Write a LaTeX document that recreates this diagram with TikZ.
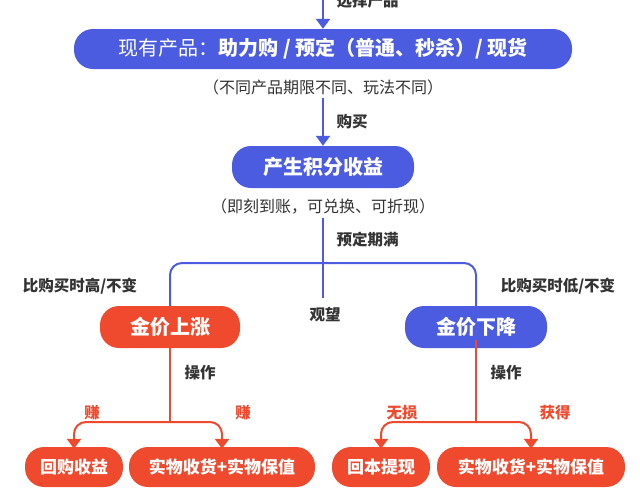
\documentclass[tikz,border=0pt]{standalone}
\usepackage{fontspec}
\setmainfont{Noto Sans CJK SC}
\usetikzlibrary{arrows.meta}
\definecolor{bl}{HTML}{4B5CE0}
\definecolor{rd}{HTML}{F04A2E}
\definecolor{tx}{HTML}{333333}
\tikzset{
  pill/.style={rounded corners=19pt,text=white,font=\bfseries\fontsize{20}{23}\selectfont,inner sep=0pt,anchor=center},
  bpill/.style={pill,fill=bl},
  rpill/.style={pill,fill=rd},
  note/.style={text=tx,font=\fontsize{16}{19}\selectfont},
  lab/.style={text=tx,font=\bfseries\fontsize{15.5}{18}\selectfont},
  rlab/.style={text=rd,font=\bfseries\fontsize{15.5}{18}\selectfont},
  bline/.style={draw=bl,line width=2pt,rounded corners=12pt},
  rline/.style={draw=rd,line width=2pt,rounded corners=12pt},
  btip/.style={-{Triangle[length=10pt,width=14pt]}},
}
\begin{document}
\begin{tikzpicture}[x=1pt,y=-1pt]
\useasboundingbox[fill=white] (0,0) rectangle (640,491);
\coordinate (t0) at (323,-2);
\node[lab,anchor=west] at (333,1) {选择产品};
\node[bpill,minimum width=498pt,minimum height=40pt] (b1) at (323,49) {\mdseries 现有产品：\bfseries 助力购 / 预定（普通、秒杀）/ 现货};
\draw[bline,btip] (t0) -- (b1.north);
\node[note] (n1) at (323,87) {（不同产品期限不同、玩法不同）};
\node[bpill,minimum width=182pt,minimum height=42pt] (b2) at (323,167) {产生积分收益};
\draw[bline,btip] (n1.south) -- (b2.north);
\node[lab,anchor=west] at (333,122) {购买};
\node[note] (n2) at (323,207) {（即刻到账，可兑换、可折现）};
\node[lab,anchor=west] at (333,240) {预定期满};
\node[rpill,minimum width=140pt,minimum height=42pt] (g1) at (170,327) {金价上涨};
\node[bpill,minimum width=142pt,minimum height=42pt] (g2) at (476,327) {金价下降};
\coordinate (j) at (323,263);
\coordinate (c) at (323,298);
\draw[bline] (n2.south) -- (c);
\draw[bline] (g1.north) |- (j) -| (g2.north);
\node[lab] at (325,315) {观望};
\node[lab] at (80,286) {比购买时高/不变};
\node[lab] at (558,286) {比购买时低/不变};
\tikzset{small/.style={rpill,font=\bfseries\fontsize{17}{20}\selectfont,minimum height=40pt}}
\node[small,minimum width=98pt] (r1) at (74,467) {回购收益};
\node[small,minimum width=186pt] (r2) at (222,467) {实物收货+实物保值};
\node[small,minimum width=98pt] (r3) at (381,467) {回本提现};
\node[small,minimum width=188pt] (r4) at (531,467) {实物收货+实物保值};
\coordinate (k1) at (170,422);
\coordinate (k2) at (476,422);
\draw[rline] ([yshift=8pt]g1.south) -- (k1);
\draw[rline] ([yshift=8pt]g2.south) -- (k2);
\draw[rline,btip] (k1) -| ([yshift=-2pt]r1.north);
\draw[rline,btip] (k1) -| ([yshift=-2pt]r2.north);
\draw[rline,btip] (k2) -| ([yshift=-2pt]r3.north);
\draw[rline,btip] (k2) -| ([yshift=-2pt]r4.north);
\node[lab] at (200,373) {操作};
\node[lab] at (506,373) {操作};
\node[rlab] at (92,413) {赚};
\node[rlab] at (243,413) {赚};
\node[rlab] at (402,413) {无损};
\node[rlab] at (555,413) {获得};
\end{tikzpicture}
\end{document}
